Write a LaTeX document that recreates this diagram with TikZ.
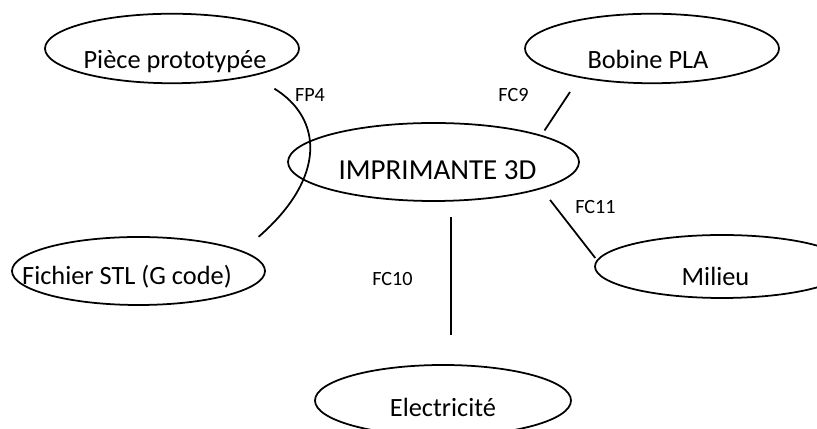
\documentclass[tikz,border=0pt]{standalone}
\usepackage{fontspec}
\setmainfont{Carlito}
\usetikzlibrary{shapes.geometric,calc}

% text set low in the oval: x shift, drop below centre, text
\newcommand{\ovaltext}[3]{\makebox[0pt]{\hspace*{2\dimexpr#1\relax}\raisebox{-#2}[0pt][0pt]{#3}}}

\begin{document}
\begin{tikzpicture}[line width=1pt,
  bulle/.style={draw, ellipse, inner sep=0pt, minimum width=5.08cm, minimum height=1.39cm, font=\fontsize{15}{18}\selectfont},
  fonction/.style={inner sep=0pt, font=\fontsize{11.5}{14}\selectfont}]
\useasboundingbox (0,0) rectangle (16.34,8.58);
% milieux exterieurs
\node[bulle] (piece) at (3.44, 7.61) {\ovaltext{0.06cm}{0.41cm}{Pièce prototypée}};
\node[bulle, minimum width=5.06cm, minimum height=1.36cm] (fichier) at (2.77, 3.16) {\ovaltext{-0.23cm}{0.28cm}{Fichier STL (G code)}};
\node[bulle, minimum width=5.82cm, minimum height=1.56cm, font=\fontsize{16.5}{20}\selectfont] (imp) at (8.67, 5.34) {\ovaltext{0.08cm}{0.36cm}{IMPRIMANTE 3D}};
\node[bulle] (bob) at (13.04, 7.61) {\ovaltext{-0.08cm}{0.41cm}{Bobine PLA}};
\node[bulle, minimum height=1.26cm] (milieu) at (14.44, 3.25) {\ovaltext{-0.13cm}{0.39cm}{Milieu}};
\node[bulle, minimum width=5.12cm, minimum height=1.42cm] (elec) at (8.86, 0.57) {\ovaltext{0cm}{0.33cm}{Electricité}};
% fonctions
\draw ([shift={(0.24,-0.30)}]piece.south east) .. controls +(0.96,-0.59) and +(1.37,1.19) .. ([shift={(0.60,0.19)}]fichier.north east);
\draw[shorten <=0.11cm, shorten >=0.34cm] (imp.14) -- (bob.202);
\draw[shorten <=0.28cm, shorten >=0.05cm] (imp.346) -- (milieu.177);
\draw[shorten <=0.31cm, shorten >=0.58cm] ([xshift=0.35cm]imp.south) -- ([xshift=0.16cm]elec.north);
\node[fonction] (fp4) at (6.20, 6.68) {FP4};
\node[fonction] (fc9) at (10.27, 6.68) {FC9};
\node[fonction] (fc11) at (11.91, 4.43) {FC11};
\node[fonction] (fc10) at (7.85, 2.99) {FC10};
\end{tikzpicture}
\end{document}
